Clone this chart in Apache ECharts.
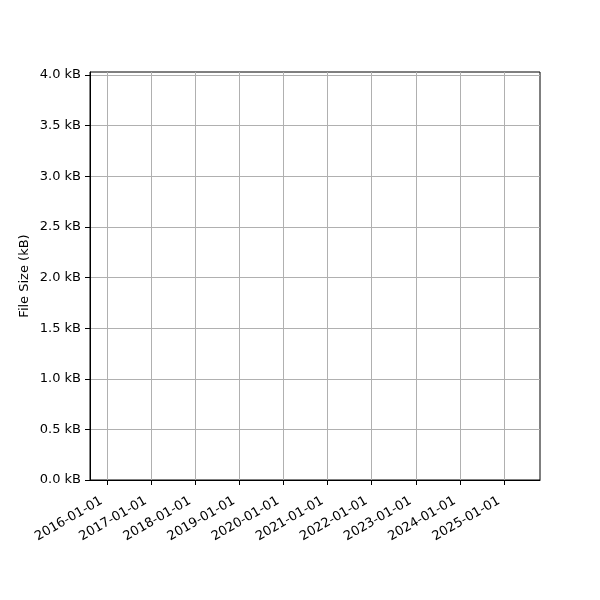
<!DOCTYPE html>
<html>
<head>
    <meta charset="utf-8">
</head>
<body style="height: 100%; margin: 0">
<div id="container" style="width: 600px; height: 600px"></div>
<script type="text/javascript" src="https://fastly.jsdelivr.net/npm/echarts@6/dist/echarts.min.js"></script>
<script type="text/javascript">
    // tick dates on the x axis (no data points in the plot)
    var tickDates = ['2016-01-01', '2017-01-01', '2018-01-01', '2019-01-01', '2020-01-01',
        '2021-01-01', '2022-01-01', '2023-01-01', '2024-01-01', '2025-01-01'];
    var sizeTicks = [0, 0.5, 1.0, 1.5, 2.0, 2.5, 3.0, 3.5, 4.0];
    var fileSizes = []; // empty series, chart has no data
    var xMin = '2015-08-15';
    var xMax = '2025-10-25';
    var yMax = 4.03;

    function toMs(s) {
        var p = s.split('-');
        return Date.UTC(+p[0], +p[1] - 1, +p[2]);
    }
    function pad(n) { return n < 10 ? '0' + n : '' + n; }
    function fmtDate(v) {
        var d = new Date(v);
        return d.getUTCFullYear() + '-' + pad(d.getUTCMonth() + 1) + '-' + pad(d.getUTCDate());
    }

    var tickMs = tickDates.map(toMs);
    var font = 'DejaVu Sans';

    var dom = document.getElementById('container');
    var myChart = echarts.init(dom, null, {renderer: 'canvas'});

    var option = {
        backgroundColor: '#fff',
        animation: false,
        grid: {
            left: 90,
            right: 60,
            top: 72,
            bottom: 120,
            show: true,
            borderColor: '#000',
            borderWidth: 1
        },
        xAxis: {
            type: 'value',
            min: toMs(xMin),
            max: toMs(xMax),
            axisLine: {show: true, lineStyle: {color: '#000', width: 1}},
            axisTick: {show: true, customValues: tickMs, length: 5, lineStyle: {color: '#000'}},
            axisLabel: {
                customValues: tickMs,
                rotate: 30,
                formatter: fmtDate,
                color: '#000',
                fontFamily: font,
                fontSize: 13,
                margin: 17,
                padding: [0, 6, 0, 0]
            },
            splitLine: {show: true, lineStyle: {color: '#b0b0b0', width: 1}}
        },
        yAxis: {
            type: 'value',
            min: 0,
            max: yMax,
            name: 'File Size (kB)',
            nameLocation: 'middle',
            nameGap: 59,
            nameMoveOverlap: false,
            nameTextStyle: {color: '#000', fontFamily: font, fontSize: 13},
            axisLine: {show: true, lineStyle: {color: '#000', width: 1}},
            axisTick: {show: true, customValues: sizeTicks, length: 5, lineStyle: {color: '#000'}},
            axisLabel: {
                customValues: sizeTicks,
                formatter: function (v) { return v.toFixed(1) + ' kB'; },
                color: '#000',
                fontFamily: font,
                fontSize: 13,
                margin: 9
            },
            splitLine: {show: true, lineStyle: {color: '#b0b0b0', width: 1}}
        },
        series: [{
            type: 'line',
            data: fileSizes
        }]
    };

    myChart.setOption(option);
    window.addEventListener('resize', myChart.resize);
</script>
</body>
</html>
